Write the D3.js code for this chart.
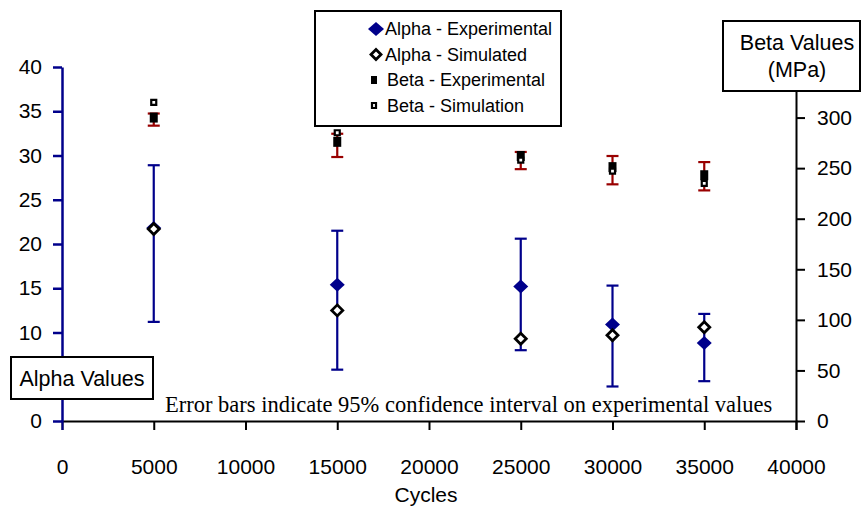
<!DOCTYPE html>
<html>
<head>
<meta charset="utf-8">
<script src="https://cdn.jsdelivr.net/npm/d3@7"></script>
<style>
  body { margin: 0; background: #fff; }
  text { font-family: "Liberation Sans", Arial, sans-serif; }
</style>
</head>
<body>
<svg id="chart" width="865" height="510"></svg>
<script>
// data
const cycles    = [5000, 15000, 25000, 30000, 35000];
const alphaExp  = [21.8, 15.4, 15.2, 10.9, 8.8];
const alphaSim  = [21.7, 12.5, 9.3, 9.7, 10.6];
const alphaLow  = [11.2, 5.8, 8.0, 3.9, 4.5];
const alphaHigh = [28.9, 21.5, 20.6, 15.3, 12.1];
const betaExp   = [300, 276, 262, 251, 243];
const betaSim   = [315, 285, 258, 247, 235];
const betaLow   = [292, 261, 249, 234, 228];
const betaHigh  = [304, 284, 266, 262, 256];

const xTicks     = [0, 5000, 10000, 15000, 20000, 25000, 30000, 35000, 40000];
const alphaTicks = [0, 5, 10, 15, 20, 25, 30, 35, 40];
const betaTicks  = [0, 50, 100, 150, 200, 250, 300, 350];
const legendNames = ["Alpha - Experimental", "Alpha - Simulated", "Beta - Experimental", "Beta - Simulation"];

const navy = "#00008b", darkRed = "#990000";

const svg = d3.select("#chart");

var x = d3.scaleLinear().domain([0, 40000]).range([62, 796]);
var yA = d3.scaleLinear().domain([0, 40]).range([421, 67]);
var yB = d3.scaleLinear().domain([0, 350]).range([421, 67]);

const rows = cycles.map((c, i) => ({
  c: c, ae: alphaExp[i], as: alphaSim[i], al: alphaLow[i], ah: alphaHigh[i],
  be: betaExp[i], bs: betaSim[i], bl: betaLow[i], bh: betaHigh[i]
}));

// marker shapes
function diamond(w, h) {
  return "M0," + (-h / 2) + "L" + (w / 2) + ",0L0," + (h / 2) + "L" + (-w / 2) + ",0Z";
}
function square(w, h) {
  return "M" + (-w / 2) + "," + (-h / 2) + "h" + w + "v" + h + "h" + (-w) + "Z";
}

// x axis
var xAxis = svg.append("g")
  .attr("transform", "translate(0," + yA(0) + ")")
  .call(d3.axisBottom(x).tickValues(xTicks).tickSize(9).tickPadding(29).tickFormat(d3.format("d")));
xAxis.select(".domain").attr("stroke", "#000").attr("stroke-width", 2);
xAxis.selectAll(".tick line").attr("stroke", "#000").attr("stroke-width", 2);
xAxis.selectAll(".tick text").attr("font-size", "21px").attr("fill", "#000").attr("font-family", "Liberation Sans");
xAxis.selectAll(".tick line").filter(d => d === 0).attr("stroke", navy);

// right (beta) axis -- the 350 label sits under the title box, as in the original
var rAxis = svg.append("g")
  .attr("transform", "translate(" + x(40000) + ",0)")
  .call(d3.axisRight(yB).tickValues(betaTicks).tickSize(9).tickSizeOuter(0).tickPadding(12)
    .tickFormat(d => d === 350 ? "" : d));
rAxis.select(".domain").attr("stroke", "#000").attr("stroke-width", 2);
rAxis.selectAll(".tick line").attr("stroke", "#000").attr("stroke-width", 2);
rAxis.selectAll(".tick text").attr("font-size", "21px").attr("fill", "#000").attr("font-family", "Liberation Sans");

// left (alpha) axis -- the 5 label is covered by the "Alpha Values" box
var lAxis = svg.append("g")
  .attr("transform", "translate(" + x(0) + ",0)")
  .call(d3.axisLeft(yA).tickValues(alphaTicks).tickSize(9).tickSizeOuter(0).tickPadding(11)
    .tickFormat(d => d === 5 ? "" : d));
lAxis.select(".domain").attr("stroke", navy).attr("stroke-width", 2.5);
lAxis.selectAll(".tick line").attr("stroke", navy).attr("stroke-width", 2.5);
lAxis.selectAll(".tick text").attr("font-size", "21px").attr("fill", "#000").attr("font-family", "Liberation Sans");

// error bars
function errorBars(cls, lo, hi, color) {
  var g = svg.append("g").attr("class", cls).attr("stroke", color).attr("stroke-width", 2.2);
  g.selectAll("line.v").data(rows).enter().append("line").attr("class", "v")
    .attr("x1", d => x(d.c)).attr("x2", d => x(d.c))
    .attr("y1", lo).attr("y2", hi);
  g.selectAll("line.lo").data(rows).enter().append("line").attr("class", "lo")
    .attr("x1", d => x(d.c) - 6).attr("x2", d => x(d.c) + 6)
    .attr("y1", lo).attr("y2", lo);
  g.selectAll("line.hi").data(rows).enter().append("line").attr("class", "hi")
    .attr("x1", d => x(d.c) - 6).attr("x2", d => x(d.c) + 6)
    .attr("y1", hi).attr("y2", hi);
}
errorBars("alpha-err", d => yA(d.al), d => yA(d.ah), navy);

svg.append("g").selectAll("path").data(rows).enter().append("path")
  .attr("transform", d => "translate(" + x(d.c) + "," + yA(d.ae) + ")")
  .attr("d", diamond(15, 14)).attr("fill", navy);
svg.append("g").selectAll("path").data(rows).enter().append("path")
  .attr("transform", d => "translate(" + x(d.c) + "," + yA(d.as) + ")")
  .attr("d", diamond(11, 11)).attr("fill", "#fff").attr("stroke", "#000").attr("stroke-width", 2.8);

errorBars("beta-err", d => yB(d.bl), d => yB(d.bh), darkRed);

svg.append("g").selectAll("path").data(rows).enter().append("path")
  .attr("transform", d => "translate(" + x(d.c) + "," + yB(d.be) + ")")
  .attr("d", square(8, 10)).attr("fill", "#000");
svg.append("g").selectAll("path").data(rows).enter().append("path")
  .attr("transform", d => "translate(" + x(d.c) + "," + yB(d.bs) + ")")
  .attr("d", square(5, 5)).attr("fill", "#fff").attr("stroke", "#000").attr("stroke-width", 2.2);

// note
svg.append("text")
  .attr("x", 165).attr("y", 412)
  .style("font-family", "'Liberation Serif', 'Times New Roman', serif")
  .attr("font-size", "22.5px").attr("fill", "#000")
  .text("Error bars indicate 95% confidence interval on experimental values");

// axis title
svg.append("text").attr("x", 426).attr("y", 502).attr("text-anchor", "middle")
  .attr("font-size", "21px").attr("fill", "#000").text("Cycles");

// alpha label box
svg.append("rect").attr("x", 11).attr("y", 357).attr("width", 142).attr("height", 42)
  .attr("fill", "#fff").attr("stroke", "#000").attr("stroke-width", 2);
svg.append("text").attr("x", 82).attr("y", 386).attr("text-anchor", "middle")
  .attr("font-size", "21.5px").attr("fill", "#000").text("Alpha Values");

// beta label box
svg.append("rect").attr("x", 723).attr("y", 21).attr("width", 137).attr("height", 70)
  .attr("fill", "#fff").attr("stroke", "#000").attr("stroke-width", 2);
svg.append("text").attr("x", 797).attr("y", 50).attr("text-anchor", "middle")
  .attr("font-size", "21.5px").attr("fill", "#000").text("Beta Values");
svg.append("text").attr("x", 797).attr("y", 77).attr("text-anchor", "middle")
  .attr("font-size", "21.5px").attr("fill", "#000").text("(MPa)");

// legend
var legend = svg.append("g");
legend.append("rect").attr("x", 315).attr("y", 11).attr("width", 246).attr("height", 115)
  .attr("fill", "#fff").attr("stroke", "#000").attr("stroke-width", 2);
const legendMarks = [
  {d: diamond(16, 14), fill: navy, stroke: "none", sw: 0},
  {d: diamond(10, 10), fill: "#fff", stroke: "#000", sw: 2.8},
  {d: square(6, 8), fill: "#000", stroke: "none", sw: 0},
  {d: square(4, 5), fill: "#fff", stroke: "#000", sw: 2.2}
];
var items = legend.selectAll("g.item").data(legendNames).enter().append("g")
  .attr("class", "item")
  .attr("transform", (d, i) => "translate(0," + (35 + i * 25.5) + ")");
items.append("path")
  .attr("transform", (d, i) => "translate(" + (i < 2 ? 376 : 374) + ",-6)")
  .attr("d", (d, i) => legendMarks[i].d)
  .attr("fill", (d, i) => legendMarks[i].fill)
  .attr("stroke", (d, i) => legendMarks[i].stroke)
  .attr("stroke-width", (d, i) => legendMarks[i].sw);
items.append("text").attr("x", (d, i) => i < 2 ? 385 : 387).attr("y", 0)
  .attr("font-size", "18px").attr("fill", "#000").text(d => d);
</script>
</body>
</html>
